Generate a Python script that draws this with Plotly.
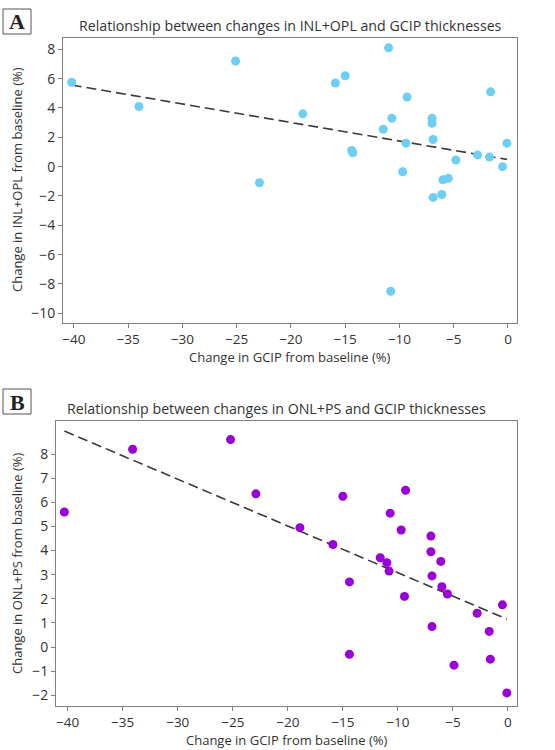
import numpy as np
import plotly.graph_objects as go

# Panel A: GCIP change vs INL+OPL change
gcip_a = [-40.2, -34.0, -25.1, -18.9, -15.9, -15.0, -11.0, -9.3, -10.7, -11.5,
          -7.0, -7.0, -1.6, -9.4, -6.9, -0.1, -14.4, -14.3, -4.8, -2.8,
          -1.7, -0.5, -9.7, -22.9, -6.0, -5.5, -6.9, -6.1, -10.8]
inl_opl = [5.75, 4.1, 7.2, 3.6, 5.7, 6.2, 8.1, 4.75, 3.3, 2.55,
           3.3, 2.95, 5.1, 1.6, 1.85, 1.6, 1.1, 0.95, 0.45, 0.8,
           0.65, 0.0, -0.35, -1.1, -0.9, -0.8, -2.1, -1.9, -8.5]

# Panel B: GCIP change vs ONL+PS change
gcip_b = [-34.1, -25.2, -22.9, -15.0, -9.3, -40.3, -18.9, -15.9, -14.4, -10.7,
          -9.7, -11.6, -11.0, -10.8, -9.4, -7.0, -7.0, -6.1, -6.9, -6.0,
          -5.5, -0.5, -2.8, -6.9, -1.7, -14.4, -4.9, -1.6, -0.1]
onl_ps = [8.2, 8.6, 6.35, 6.25, 6.5, 5.6, 4.95, 4.25, 2.7, 5.55,
          4.85, 3.7, 3.5, 3.15, 2.1, 4.6, 3.95, 3.55, 2.95, 2.5,
          2.2, 1.75, 1.4, 0.85, 0.65, -0.3, -0.75, -0.5, -1.9]

# Fitted trend lines (slope, intercept)
fit_a = (-0.1265, 0.48)
fit_b = (-0.1939, 1.14)

x_ticks = [-40, -35, -30, -25, -20, -15, -10, -5, 0]
y_ticks_a = [-10, -8, -6, -4, -2, 0, 2, 4, 6, 8]
y_ticks_b = [-2, -1, 0, 1, 2, 3, 4, 5, 6, 7, 8]

title_a = "Relationship between changes in INL+OPL and GCIP thicknesses"
title_b = "Relationship between changes in ONL+PS and GCIP thicknesses"
xlab = "Change in GCIP from baseline (%)"
ylab_a = "Change in INL+OPL from baseline (%)"
ylab_b = "Change in ONL+PS from baseline (%)"

FONT = "Open Sans"
TXT = "#333333"

fig = go.Figure()

def line_xy(xs, fit):
    xx = np.array([min(xs), max(xs)])
    return xx, fit[0] * xx + fit[1]

def lbl(vals):
    return [str(v).replace("-", "\u2212") for v in vals]

lx, ly = line_xy(gcip_a, fit_a)
fig.add_trace(go.Scatter(x=lx, y=ly, mode="lines", xaxis="x", yaxis="y",
                         line=dict(color="#3a3a3a", width=1.6, dash="10px,5px"),
                         showlegend=False, hoverinfo="skip"))
fig.add_trace(go.Scatter(x=gcip_a, y=inl_opl, mode="markers", xaxis="x", yaxis="y",
                         marker=dict(color="#6dcff4", size=9), showlegend=False))

lx, ly = line_xy(gcip_b, fit_b)
fig.add_trace(go.Scatter(x=lx, y=ly, mode="lines", xaxis="x2", yaxis="y2",
                         line=dict(color="#3a3a3a", width=1.6, dash="10px,5px"),
                         showlegend=False, hoverinfo="skip"))
fig.add_trace(go.Scatter(x=gcip_b, y=onl_ps, mode="markers", xaxis="x2", yaxis="y2",
                         marker=dict(color="#9a00d8", size=9), showlegend=False))

W, H = 555, 750

def ax_common(fs=14):
    return dict(showline=True, linecolor="#808080", linewidth=1, mirror=True,
                ticks="outside", ticklen=4, tickcolor="#808080", showgrid=False,
                zeroline=False, tickfont=dict(family=FONT, size=fs, color=TXT))

def ann(text, x, y, size, angle=0, family=FONT, color=TXT):
    return dict(text=text, x=x / W, y=(H - y) / H, xref="paper", yref="paper",
                showarrow=False, xanchor="center", yanchor="middle", textangle=angle,
                font=dict(family=family, size=size, color=color))

fig.update_layout(
    width=W, height=H, margin=dict(l=0, r=0, t=0, b=0),
    paper_bgcolor="white", plot_bgcolor="white",
    xaxis=dict(domain=[63/W, 517/W], anchor="y", range=[-41.0, 0.83],
               tickvals=x_ticks, ticktext=lbl(x_ticks), **ax_common(13.5)),
    yaxis=dict(domain=[(H-322.7)/H, (H-38)/H], anchor="x", range=[-10.64, 8.77],
               tickvals=y_ticks_a, ticktext=lbl(y_ticks_a), **ax_common()),
    xaxis2=dict(domain=[56/W, 517.3/W], anchor="y2", range=[-41.06, 0.85],
                tickvals=x_ticks, ticktext=lbl(x_ticks), **ax_common(13.5)),
    yaxis2=dict(domain=[(H-705.7)/H, (H-421)/H], anchor="x2", range=[-2.43, 9.37],
                tickvals=y_ticks_b, ticktext=lbl(y_ticks_b), **ax_common()),
    annotations=[
        ann(title_a, 290.5, 26, 14.2),
        ann(title_b, 276, 408, 14.2),
        ann(xlab, 290, 357, 13),
        ann(xlab, 287, 739.5, 13),
        ann(ylab_a, 17, 180, 13, angle=-90),
        ann(ylab_b, 17, 563, 13, angle=-90),
        ann("<b>A</b>", 17, 22, 22, family="Liberation Serif", color="#222222"),
        ann("<b>B</b>", 17, 402, 22, family="Liberation Serif", color="#222222"),
    ],
    shapes=[
        dict(type="rect", xref="paper", yref="paper", x0=3/W, x1=31/W,
             y0=(H-34)/H, y1=(H-9)/H, line=dict(color="#555555", width=1)),
        dict(type="rect", xref="paper", yref="paper", x0=3/W, x1=31/W,
             y0=(H-414)/H, y1=(H-389)/H, line=dict(color="#555555", width=1)),
    ],
)

fig.write_html("out.html", config={"displayModeBar": False},
               post_script="document.body.style.margin='0px';")
